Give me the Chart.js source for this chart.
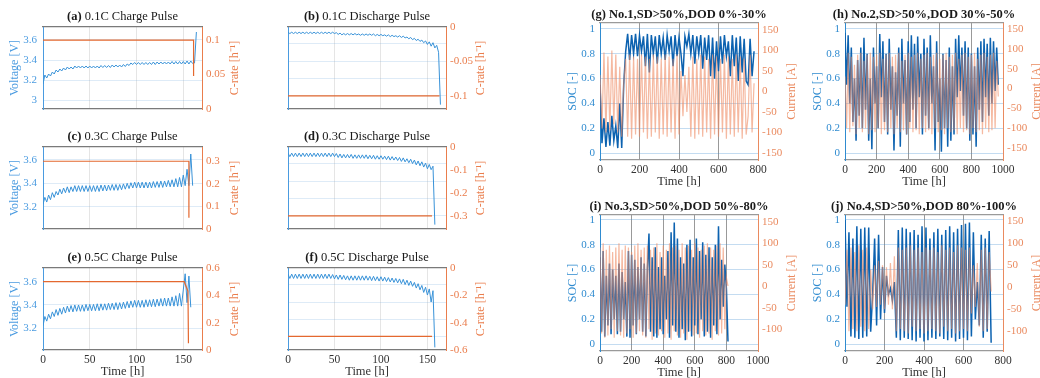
<!DOCTYPE html>
<html>
<head>
<meta charset="utf-8">
<script src="https://cdn.jsdelivr.net/npm/chart.js@4.4.1/dist/chart.umd.min.js"></script>
<style>
  html, body { margin: 0; padding: 0; background: #fff; width: 1040px; height: 378px; overflow: hidden; position: relative; }
  canvas { position: absolute; }
</style>
</head>
<body>
<script>
// ---------- pulse tests (a)-(f) ----------
const pulseTime = [0,2,4,6,8,10,12,14,16,18,
  20,22,24,26,28,30,32,34,36,38,
  40,42,44,46,48,50,52,54,56,58,
  60,62,64,66,68,70,72,74,76,78,
  80,82,84,86,88,90,92,94,96,98,
  100,102,104,106,108,110,112,114,116,118,
  120,122,124,126,128,130,132,134,136,138,
  140,142,144,146,148,150,152,154,156,158,
  160,162,164];

const voltA = [3.16,3.25,3.22,3.26,3.24,3.28,3.26,3.30,3.28,3.31,
  3.29,3.32,3.30,3.33,3.31,3.33,3.31,3.34,3.32,3.34,
  3.32,3.34,3.32,3.34,3.32,3.34,3.32,3.34,3.32,3.34,
  3.32,3.345,3.325,3.345,3.325,3.345,3.325,3.35,3.33,3.35,
  3.33,3.35,3.33,3.355,3.335,3.36,3.345,3.37,3.355,3.375,
  3.355,3.375,3.355,3.375,3.355,3.375,3.355,3.375,3.355,3.38,
  3.355,3.38,3.36,3.38,3.36,3.38,3.36,3.38,3.36,3.385,
  3.36,3.385,3.36,3.385,3.36,3.385,3.36,3.39,3.36,3.39,
  3.365,3.37,3.68];
const rateTimeA = [0, 161, 161];
const rateA = [0.1, 0.1, 0.048];

const voltB = [3.33,3.315,3.33,3.315,3.33,3.315,3.33,3.315,3.33,3.315,
  3.33,3.315,3.33,3.315,3.33,3.315,3.33,3.315,3.33,3.315,
  3.33,3.315,3.33,3.315,3.33,3.315,3.325,3.305,3.32,3.30,
  3.315,3.30,3.315,3.30,3.315,3.30,3.315,3.30,3.31,3.295,
  3.31,3.295,3.31,3.295,3.31,3.295,3.31,3.29,3.305,3.29,
  3.305,3.29,3.30,3.285,3.30,3.28,3.295,3.28,3.29,3.275,
  3.29,3.27,3.285,3.265,3.275,3.255,3.27,3.245,3.26,3.235,
  3.25,3.225,3.24,3.21,3.23,3.19,3.22,3.17,3.21,3.15,
  3.18,3.10,2.50];
const rateTimeB = [0, 163];
const rateB = [-0.1, -0.1];

const voltC = [3.22,3.28,3.24,3.30,3.26,3.32,3.28,3.33,3.30,3.35,
  3.31,3.36,3.32,3.37,3.32,3.37,3.33,3.38,3.33,3.38,
  3.33,3.38,3.33,3.38,3.33,3.38,3.33,3.38,3.33,3.38,
  3.33,3.385,3.335,3.385,3.335,3.385,3.34,3.39,3.34,3.39,
  3.34,3.39,3.345,3.395,3.35,3.40,3.355,3.405,3.36,3.41,
  3.36,3.41,3.36,3.41,3.36,3.41,3.36,3.41,3.36,3.415,
  3.365,3.415,3.365,3.42,3.365,3.42,3.37,3.425,3.37,3.43,
  3.37,3.44,3.37,3.45,3.37,3.47,3.38,3.52,3.38,3.65,
  3.38,null,null];
const rateTimeC = [0, 156, 156];
const rateC = [0.3, 0.3, 0.05];

const voltD = [3.32,3.28,3.32,3.28,3.32,3.28,3.32,3.28,3.32,3.28,
  3.32,3.28,3.32,3.28,3.32,3.28,3.32,3.28,3.32,3.28,
  3.32,3.28,3.32,3.28,3.32,3.28,3.315,3.27,3.31,3.265,
  3.305,3.265,3.305,3.265,3.305,3.26,3.30,3.26,3.30,3.26,
  3.30,3.26,3.30,3.255,3.295,3.255,3.295,3.25,3.29,3.25,
  3.29,3.25,3.285,3.245,3.285,3.24,3.28,3.24,3.275,3.235,
  3.27,3.225,3.265,3.22,3.255,3.21,3.25,3.20,3.24,3.185,
  3.23,3.175,3.22,3.16,3.205,3.14,3.19,3.13,3.17,2.50,
  null,null,null];
const rateTimeD = [0, 155];
const rateD = [-0.3, -0.3];

const voltE = [3.22,3.30,3.26,3.32,3.28,3.34,3.30,3.36,3.31,3.37,
  3.32,3.38,3.33,3.39,3.34,3.395,3.34,3.40,3.345,3.40,
  3.345,3.40,3.345,3.405,3.35,3.405,3.35,3.405,3.35,3.41,
  3.35,3.41,3.355,3.41,3.355,3.415,3.36,3.415,3.36,3.42,
  3.36,3.42,3.365,3.425,3.37,3.43,3.375,3.435,3.38,3.44,
  3.38,3.44,3.38,3.44,3.38,3.445,3.385,3.445,3.385,3.45,
  3.385,3.45,3.39,3.455,3.39,3.46,3.39,3.46,3.39,3.47,
  3.39,3.48,3.39,3.50,3.39,3.53,3.67,3.42,3.65,3.38,
  null,null,null];
const rateTimeE = [0, 151, 155, 155.5];
const rateE = [0.5, 0.5, 0.43, 0.05];

const voltF = [3.32,3.27,3.32,3.27,3.32,3.27,3.32,3.27,3.32,3.27,
  3.32,3.27,3.32,3.27,3.32,3.27,3.32,3.27,3.32,3.27,
  3.32,3.27,3.32,3.27,3.315,3.265,3.31,3.26,3.31,3.26,
  3.305,3.255,3.30,3.25,3.30,3.25,3.30,3.25,3.30,3.25,
  3.30,3.25,3.30,3.25,3.295,3.245,3.295,3.245,3.29,3.24,
  3.29,3.24,3.285,3.235,3.28,3.23,3.275,3.225,3.27,3.22,
  3.265,3.21,3.26,3.20,3.25,3.19,3.24,3.18,3.225,3.16,
  3.21,3.14,3.19,3.11,3.17,3.08,3.15,3.00,3.13,2.48,
  null,null,null];
const rateTimeF = [0, 155];
const rateF = [-0.5, -0.5];

// ---------- field profiles (g)-(j) ----------
const cycleTime = [0,10,20,30,40,50,60,70,80,90,
  100,110,120,130,140,150,160,170,180,190,
  200,210,220,230,240,250,260,270,280,290,
  300,310,320,330,340,350,360,370,380,390,
  400,410,420,430,440,450,460,470,480,490,
  500,510,520,530,540,550,560,570,580,590,
  600,610,620,630,640,650,660,670,680,690,
  700,710,720,730,740,750,760,770,780,790,
  800,810,820,830,840,850,860,870,880,890,
  900,910,920,930,940,950,960,970];

const socG = [0.55,0.08,0.28,0.05,0.25,0.06,0.30,0.10,0.22,0.04,
  0.40,0.04,0.55,0.82,0.96,0.75,0.95,0.80,0.96,0.78,
  0.95,0.82,0.94,0.70,0.96,0.65,0.95,0.80,0.94,0.72,
  0.95,0.80,0.93,0.75,0.95,0.82,0.94,0.70,0.95,0.78,
  0.93,0.80,0.62,0.94,0.86,0.96,0.80,0.95,0.72,0.94,
  0.80,0.95,0.68,0.93,0.75,0.95,0.62,0.93,0.60,0.90,
  0.66,0.94,0.72,0.95,0.78,0.90,0.62,0.95,0.70,0.93,
  0.58,0.94,0.65,0.92,0.58,0.55,0.92,0.62,0.82];
const currentG = [40,-90,95,-100,85,-95,100,-80,90,-100,
  60,-110,20,80,-110,90,-115,85,-105,80,
  -110,90,-100,85,-115,80,-110,90,-100,85,
  -115,80,-105,90,-110,85,-100,80,-115,90,
  -105,50,-60,40,-50,60,-110,85,-115,80,
  -105,90,-110,85,-100,80,-115,90,-105,85,
  -110,80,-100,90,-115,85,-105,80,-110,90,
  -100,85,-115,80,-105,-60,90,-100,20];

const socH = [0.97,0.55,0.95,0.40,0.85,0.25,0.60,0.10,0.75,0.30,
  0.85,0.20,0.93,0.35,0.80,0.10,0.60,0.03,0.85,0.40,
  0.70,0.20,0.96,0.45,0.90,0.25,0.80,0.15,0.92,0.35,
  0.70,0.02,0.65,0.30,0.85,0.05,0.92,0.40,0.75,0.15,
  0.90,0.25,0.95,0.35,0.88,0.20,0.94,0.45,0.80,0.15,
  0.92,0.30,0.85,0.20,0.95,0.40,0.70,0.02,0.90,0.25,
  0.60,0.01,0.80,0.20,0.75,0.05,0.85,0.10,0.70,0.15,
  0.92,0.45,0.95,0.50,0.85,0.30,0.90,0.20,0.85,0.10,
  0.80,0.15,0.70,0.05,0.85,0.35,0.90,0.25,0.92,0.45,
  0.88,0.30,0.93,0.40,0.90,0.50,0.85,0.55];
const currentH = [30,-100,90,-110,80,-95,60,-115,85,-100,
  90,-110,70,-100,85,-115,90,-105,80,-110,
  85,-100,90,-115,75,-105,85,-110,90,-100,
  80,-115,85,-100,90,-110,70,-105,85,-115,
  90,-100,80,-110,85,-105,90,-115,75,-100,
  85,-110,90,-105,80,-115,85,-100,90,-110,
  75,-105,85,-115,90,-100,80,-110,85,-105,
  90,-115,75,-100,85,-110,90,-105,80,-115,
  85,-100,90,-110,75,-105,85,-115,90,-100,
  80,-110,85,-105,90,-100,70,-20];

const socI = [0.70,0.10,0.75,0.06,0.55,0.15,0.65,0.08,0.60,0.20,
  0.55,0.08,0.65,0.10,0.58,0.20,0.50,0.06,0.75,0.05,
  0.72,0.15,0.68,0.08,0.62,0.20,0.70,0.10,0.65,0.06,
  0.60,0.89,0.10,0.70,0.06,0.78,0.05,0.62,0.12,0.70,
  0.08,0.55,0.20,0.75,0.05,0.90,0.15,0.98,0.10,0.85,
  0.05,0.70,0.12,0.65,0.03,0.80,0.10,0.84,0.06,0.70,
  0.15,0.85,0.08,0.75,0.20,0.82,0.06,0.72,0.10,0.78,
  0.05,0.70,0.15,0.80,0.08,0.95,0.20,0.68,0.30,0.64,
  0.45,0.02];
const currentI = [90,-110,100,-120,85,-115,95,-100,80,-120,
  90,-105,100,-115,85,-120,95,-110,90,-100,
  80,-120,95,-110,100,-105,85,-115,90,-120,
  95,-100,85,-125,90,-110,100,-115,80,-105,
  95,-120,85,-110,100,-125,90,-105,95,-115,
  85,-120,100,-110,90,-125,95,-105,85,-115,
  100,-110,90,-120,85,-105,95,-115,100,-110,
  90,-125,85,-105,95,-115,100,-110,90,-100,
  20,0];

const socJ = [1.0,0.30,0.90,0.06,0.85,0.05,0.95,0.04,0.93,0.05,
  0.94,0.06,0.94,0.10,0.40,0.85,0.15,0.88,0.20,0.62,
  0.25,0.55,0.40,0.45,0.35,0.50,0.05,0.92,0.03,0.94,
  0.05,0.93,0.04,0.90,0.03,0.92,0.02,0.88,0.05,0.95,
  0.02,0.94,0.03,0.85,0.05,0.90,0.04,0.93,0.06,0.88,
  0.04,0.92,0.03,0.95,0.05,0.90,0.02,0.93,0.04,0.96,
  0.05,0.97,0.03,0.98,0.06,0.90,0.20,0.50,0.15,0.88,
  0.05,0.85,0.10,0.91,0.01];
const currentJ = [-40,85,-100,90,-95,80,-100,95,-90,85,
  -100,90,-95,40,-50,50,-45,60,-40,50,
  -50,45,-40,55,-50,70,-100,90,-95,85,
  -100,90,-105,95,-90,85,-100,90,-95,80,
  -105,90,-100,85,-95,90,-100,80,-105,95,
  -90,85,-100,90,-95,80,-105,95,-100,90,
  -95,85,-100,90,-60,50,-45,55,-90,85,
  -100,90,-95,80,-10];

// ---------- tick labels ----------
const pulseTimeTicks = [0, 50, 100, 150];
const voltTicksA = [3, 3.2, 3.4, 3.6];
const voltTicksCE = [3.2, 3.4, 3.6];
const voltGridDischarge = [2.6, 2.8, 3, 3.2];
const rateTicksA = [0, 0.05, 0.1];
const rateTicksB = [-0.1, -0.05, 0];
const rateTicksC = [0, 0.1, 0.2, 0.3];
const rateTicksD = [-0.3, -0.2, -0.1, 0];
const rateTicksE = [0, 0.2, 0.4, 0.6];
const rateTicksF = [-0.6, -0.4, -0.2, 0];
const socTicks = [0, 0.2, 0.4, 0.6, 0.8, 1];
const currentTicksGH = [-150, -100, -50, 0, 50, 100, 150];
const currentTicksIJ = [-100, -50, 0, 50, 100, 150];
const cycleTicks800 = [0, 200, 400, 600, 800];
const cycleTicks1000 = [0, 200, 400, 600, 800, 1000];

const FONT = 'Liberation Serif';

function pts(xs, ys) {
  return xs.map((x, i) => ({ x: x, y: ys[i] }))
    .filter(p => p.y !== null && p.y !== undefined);
}

// draws the panel title (mixed weight) and the right axis title (reading upward)
const panelText = {
  id: 'panelText',
  afterDraw(chart, args, o) {
    const ctx = chart.ctx, a = chart.chartArea;
    ctx.save();
    ctx.textBaseline = 'middle';
    ctx.textAlign = 'left';
    let w = 0;
    o.title.forEach(p => {
      ctx.font = (p.bold ? 'bold ' : '') + o.titleSize + 'px "' + FONT + '"';
      w += ctx.measureText(p.text).width;
    });
    let x = (a.left + a.right) / 2 - w / 2;
    ctx.fillStyle = '#1a1a1a';
    o.title.forEach(p => {
      ctx.font = (p.bold ? 'bold ' : '') + o.titleSize + 'px "' + FONT + '"';
      ctx.fillText(p.text, x, a.top - o.titleGap);
      x += ctx.measureText(p.text).width;
    });
    ctx.translate(a.right + o.rightGap, (a.top + a.bottom) / 2);
    ctx.rotate(-Math.PI / 2);
    ctx.textAlign = 'center';
    ctx.fillStyle = o.rightColor;
    ctx.font = '12px "' + FONT + '"';
    ctx.fillText(o.rightTitle, 0, 0);
    ctx.restore();
  }
};

function makePanel(p) {
  const W = p.r - p.l + p.lw + p.rw;
  const H = p.b - p.t + p.pt + p.bh;
  const cv = document.createElement('canvas');
  cv.width = W; cv.height = H;
  cv.style.left = (p.l - p.lw) + 'px';
  cv.style.top = (p.t - p.pt) + 'px';
  cv.style.width = W + 'px';
  cv.style.height = H + 'px';
  document.body.appendChild(cv);

  const fixTicks = arr => s => { s.ticks = arr.map(v => ({ value: v })); };
  const tickFont = { family: FONT, size: 11 };

  new Chart(cv, {
    type: 'line',
    data: {
      datasets: [{
        data: pts(p.rx, p.ry),
        xAxisID: 'x', yAxisID: 'y1',
        borderColor: p.orange, borderWidth: p.ow, order: 0
      }, {
        data: pts(p.vx, p.vy),
        xAxisID: 'x', yAxisID: 'y',
        borderColor: p.blue, borderWidth: p.bw, order: 1
      }]
    },
    options: {
      responsive: false,
      animation: false,
      events: [],
      layout: { padding: { top: p.pt, left: 0, right: 0, bottom: 0 } },
      elements: { point: { radius: 0 }, line: { tension: 0 } },
      plugins: {
        legend: { display: false },
        tooltip: { enabled: false },
        panelText: {
          title: p.title, titleSize: 12.5, titleGap: p.titleGap,
          rightTitle: p.rightTitle, rightGap: p.rightGap, rightColor: p.orangeText
        }
      },
      scales: {
        x: {
          type: 'linear', position: 'bottom', bounds: 'data',
          min: p.xmin, max: p.xmax,
          afterBuildTicks: fixTicks(p.xt),
          afterFit: s => { s.height = p.bh; },
          grid: { color: p.vgrid, drawTicks: false },
          border: { color: p.frame, width: 1.2 },
          ticks: { display: p.xlab, padding: 3, color: '#333', font: { family: FONT, size: 11.5 }, maxRotation: 0, callback: v => '' + v },
          title: { display: p.xlab, text: 'Time [h]', color: '#333', font: { family: FONT, size: 12.5 }, padding: { top: 0, bottom: 1 } }
        },
        x2: {
          type: 'linear', position: 'top', min: 0, max: 1,
          afterFit: s => { s.height = 0; },
          ticks: { display: false },
          grid: { display: false, drawTicks: false },
          border: { color: p.frame, width: 1.2 }
        },
        y: {
          type: 'linear', position: 'left', bounds: 'data',
          min: p.ymin, max: p.ymax,
          afterBuildTicks: fixTicks(p.yt),
          afterFit: s => { s.width = p.lw; },
          grid: { color: p.hgrid, drawTicks: false },
          border: { color: p.blueAxis, width: 1 },
          ticks: { display: p.ylab, padding: p.ypad, color: p.blueText, font: tickFont, callback: v => '' + v },
          title: { display: !!p.leftTitle, text: p.leftTitle || '', color: p.blueText, font: { family: FONT, size: 12 }, padding: { top: p.ltp, bottom: 0 } }
        },
        y1: {
          type: 'linear', position: 'right', bounds: 'data',
          min: p.y1min, max: p.y1max,
          afterBuildTicks: fixTicks(p.y1t),
          afterFit: s => { s.width = p.rw; },
          grid: { display: false, drawTicks: false },
          border: { color: p.orangeAxis, width: 1 },
          ticks: { padding: 4, color: p.orangeText, font: tickFont, callback: v => '' + v }
        }
      }
    },
    plugins: [panelText]
  });
}

const pulseStyle = {
  lw: 43, rw: 45, pt: 20, bh: 30, titleGap: 10, rightGap: 33,
  xmin: 0, xmax: 170, xt: pulseTimeTicks, ypad: 6, ltp: 8,
  blue: '#3892d8', blueText: '#4a9be0', blueAxis: '#4a9be0', bw: 1,
  orange: '#e4682f', orangeText: '#ea7d4c', orangeAxis: '#ea7d4c', ow: 1.2,
  hgrid: 'rgba(90,155,215,0.2)', vgrid: 'rgba(0,0,0,0.1)', frame: '#7a7a7a',
  rightTitle: 'C-rate [h\u207B\u00B9]'
};
const chargeAxis = { leftTitle: 'Voltage [V]', ylab: true };
const dischargeAxis = { ylab: false, ymin: 2.45, ymax: 3.39, yt: voltGridDischarge, rightGap: 35 };

makePanel(Object.assign({}, pulseStyle, chargeAxis, {
  l: 43, t: 27, r: 202, b: 109, xlab: false,
  title: [{ text: '(a)', bold: true }, { text: ' 0.1C Charge Pulse' }],
  vx: pulseTime, vy: voltA, rx: rateTimeA, ry: rateA,
  ymin: 2.91, ymax: 3.73, yt: voltTicksA, y1min: 0, y1max: 0.119, y1t: rateTicksA
}));
makePanel(Object.assign({}, pulseStyle, dischargeAxis, {
  l: 288, t: 27, r: 446, b: 109, xlab: false,
  title: [{ text: '(b)', bold: true }, { text: ' 0.1C Discharge Pulse' }],
  vx: pulseTime, vy: voltB, rx: rateTimeB, ry: rateB,
  y1min: -0.119, y1max: 0, y1t: rateTicksB
}));
makePanel(Object.assign({}, pulseStyle, chargeAxis, {
  l: 43, t: 147, r: 202, b: 229, xlab: false,
  title: [{ text: '(c)', bold: true }, { text: ' 0.3C Charge Pulse' }],
  vx: pulseTime, vy: voltC, rx: rateTimeC, ry: rateC,
  ymin: 3.01, ymax: 3.71, yt: voltTicksCE, y1min: 0, y1max: 0.363, y1t: rateTicksC
}));
makePanel(Object.assign({}, pulseStyle, dischargeAxis, {
  l: 288, t: 147, r: 446, b: 229, xlab: false,
  title: [{ text: '(d)', bold: true }, { text: ' 0.3C Discharge Pulse' }],
  vx: pulseTime, vy: voltD, rx: rateTimeD, ry: rateD,
  y1min: -0.357, y1max: 0, y1t: rateTicksD
}));
makePanel(Object.assign({}, pulseStyle, chargeAxis, {
  l: 43, t: 268, r: 202, b: 350, xlab: true,
  title: [{ text: '(e)', bold: true }, { text: ' 0.5C Charge Pulse' }],
  vx: pulseTime, vy: voltE, rx: rateTimeE, ry: rateE,
  ymin: 3.01, ymax: 3.72, yt: voltTicksCE, y1min: 0, y1max: 0.6, y1t: rateTicksE
}));
makePanel(Object.assign({}, pulseStyle, dischargeAxis, {
  l: 288, t: 268, r: 446, b: 350, xlab: true,
  title: [{ text: '(f)', bold: true }, { text: ' 0.5C Discharge Pulse' }],
  vx: pulseTime, vy: voltF, rx: rateTimeF, ry: rateF,
  y1min: -0.6, y1max: 0, y1t: rateTicksF
}));

const fieldStyle = {
  lw: 45, rw: 45, pt: 20, bh: 30, titleGap: 8, rightGap: 34,
  ypad: 5, ltp: 11, ylab: true, leftTitle: 'SOC [-]',
  ymin: -0.056, ymax: 1.048, yt: socTicks,
  blue: '#0c62b0', blueText: '#2f8bd0', blueAxis: '#2f8bd0', bw: 1.5,
  orange: 'rgba(238,138,98,0.6)', orangeText: '#ea8a5f', orangeAxis: '#ea8a5f', ow: 1.2,
  hgrid: 'rgba(60,140,210,0.3)', vgrid: 'rgba(0,0,0,0.4)', frame: '#9a9a9a',
  rightTitle: 'Current [A]'
};

makePanel(Object.assign({}, fieldStyle, {
  l: 600, t: 23, r: 758, b: 160, xlab: true, xmin: 0, xmax: 800, xt: cycleTicks800,
  title: [{ text: '(g) No.1,SD>50%,DOD 0%-30%', bold: true }],
  vx: cycleTime, vy: socG, rx: cycleTime, ry: currentG,
  y1min: -167, y1max: 167, y1t: currentTicksGH
}));
makePanel(Object.assign({}, fieldStyle, {
  l: 845, t: 23, r: 1003, b: 160, xlab: true, xmin: 0, xmax: 1000, xt: cycleTicks1000,
  title: [{ text: '(h) No.2,SD>50%,DOD 30%-50%', bold: true }],
  vx: cycleTime, vy: socH, rx: cycleTime, ry: currentH,
  y1min: -180, y1max: 165, y1t: currentTicksGH
}));
makePanel(Object.assign({}, fieldStyle, {
  l: 600, t: 215, r: 758, b: 351, xlab: true, xmin: 0, xmax: 1000, xt: cycleTicks1000,
  title: [{ text: '(i) No.3,SD>50%,DOD 50%-80%', bold: true }],
  vx: cycleTime, vy: socI, rx: cycleTime, ry: currentI,
  ymin: -0.056, ymax: 1.04,
  y1min: -151, y1max: 166, y1t: currentTicksIJ
}));
makePanel(Object.assign({}, fieldStyle, {
  l: 845, t: 215, r: 1003, b: 351, xlab: true, xmin: 0, xmax: 800, xt: cycleTicks800,
  title: [{ text: '(j) No.4,SD>50%,DOD 80%-100%', bold: true }],
  vx: cycleTime, vy: socJ, rx: cycleTime, ry: currentJ,
  ymin: -0.056, ymax: 1.04,
  y1min: -145, y1max: 164, y1t: currentTicksIJ
}));
</script>
</body>
</html>
